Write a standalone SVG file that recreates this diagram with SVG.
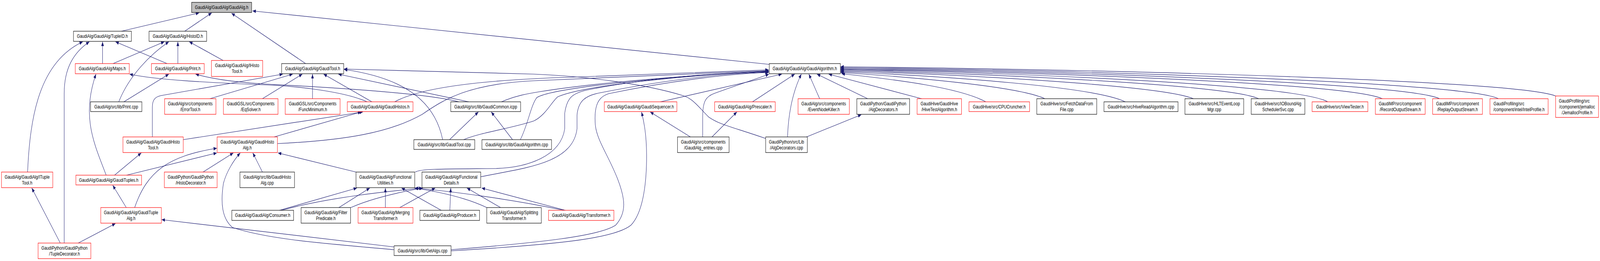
<svg xmlns="http://www.w3.org/2000/svg" width="5335" height="669" viewBox="0 0 5335 669" preserveAspectRatio="none" style="width:100%;height:100%">
<style>
.n rect{fill:#fff;stroke:#000;stroke-width:1.2}
.n.r rect{stroke:#f00}
.n.root rect{fill:#bfbfbf}
text{font-family:"Liberation Sans",Arial,Helvetica,sans-serif;font-size:13px;text-anchor:middle;fill:#000}
text.l{text-anchor:start}
.e path{fill:none;stroke:#191970;stroke-width:1.2;marker-end:url(#ah)}
</style>
<defs>
<marker id="ah" markerUnits="userSpaceOnUse" markerWidth="12" markerHeight="9" refX="11" refY="4.5" orient="auto">
<path d="M0,0 L11,4.5 L0,9 z" fill="#191970"/>
</marker>
</defs>
<rect width="5335" height="669" fill="#fff"/>
<g id="edges" class="e">
<path d="M405,80 L664,33"/>
<path d="M616,80 L706,33"/>
<path d="M1019,163 L772,34"/>
<path d="M2565,165 L842,28"/>
<path d="M342,163 L342,107"/>
<path d="M557,163 L385,107"/>
<path d="M377,163 L548,107"/>
<path d="M593,163 L593,107"/>
<path d="M744,155 L631,107"/>
<path d="M396,261 C430,195 500,140 563,107"/>
<path d="M413,261 L563,190"/>
<path d="M92,441 C100,300 130,160 276,107"/>
<path d="M214,623 L214,240 C214,175 245,135 298,107"/>
<path d="M354,449 C315,370 270,300 320,190"/>
<path d="M1224,261 C1150,235 1000,222 900,218 C700,212 520,205 432,190"/>
<path d="M1530,261 C1400,235 1000,220 900,216 C800,212 720,205 652,190"/>
<path d="M508,351 L508,275 C508,255 518,248 537,245 L943,190"/>
<path d="M700,253 L976,190"/>
<path d="M875,253 L1008,190"/>
<path d="M1042,253 L1042,190"/>
<path d="M1240,261 L1079,190"/>
<path d="M1563,261 L1128,190"/>
<path d="M1476,358 C1450,260 1350,200 1147,178"/>
<path d="M2553,355 C2440,325 2400,320 2363,300 C2330,275 2310,252 2277,245 C2150,215 1950,195 1780,190 L1147,177"/>
<path d="M1316,261 C1400,225 1600,205 1900,198 C2200,190 2400,183 2563,179"/>
<path d="M925,368 C1150,360 1300,340 1408,293 C1480,255 1560,215 1780,207 C2100,195 2400,185 2563,181"/>
<path d="M1672,261 C1720,245 1760,240 1800,235 C2000,210 2350,190 2563,183"/>
<path d="M1385,441 C1400,432 1500,433 1650,432 C1760,430 1870,400 1883,330 L1883,290 C1890,250 1910,240 1950,232 C2150,200 2400,186 2563,184"/>
<path d="M1603,453 C1750,430 1910,420 1924,330 L1924,295 C1928,260 1950,245 2000,238 C2200,208 2400,188 2563,185"/>
<path d="M1504,640 C1800,622 2000,605 2053,577 C2090,545 2085,510 2060,460 C2030,400 1990,360 1985,320 C1980,270 1995,248 2030,240 C2250,205 2450,188 2563,186"/>
<path d="M1504,643 C1850,627 2050,612 2104,577 C2150,540 2156,450 2156,400 C2156,340 2145,305 2139,287"/>
<path d="M1735,358 C1760,320 1770,270 1790,250 C1850,222 2300,192 2563,182"/>
<path d="M1546,358 C1600,340 1700,330 1780,310 C1820,295 1840,260 1860,248 C1950,218 2300,192 2563,183"/>
<path d="M2343,351 L2343,300 C2343,262 2352,248 2380,240 C2450,220 2520,203 2564,190"/>
<path d="M2302,351 L2168,287"/>
<path d="M2374,351 L2457,287"/>
<path d="M2202,261 L2607,190"/>
<path d="M2509,261 L2650,190"/>
<path d="M2626,351 C2628,300 2640,240 2672,190"/>
<path d="M2689,351 L2872,294"/>
<path d="M2733,253 L2697,190"/>
<path d="M2893,253 L2724,190"/>
<path d="M3073,253 L2763,190"/>
<path d="M3287,261 C3200,225 3000,205 2806,189"/>
<path d="M3484,253 C3400,222 3050,198 2803,186"/>
<path d="M3752,261 C3650,222 3150,195 2803,184"/>
<path d="M3979,253 C3880,220 3250,192 2803,182"/>
<path d="M4197,253 C4100,218 3350,190 2803,180"/>
<path d="M4427,261 C4330,218 3450,188 2803,178"/>
<path d="M4609,253 C4500,215 3550,186 2803,177"/>
<path d="M4800,253 C4700,215 3650,184 2803,175"/>
<path d="M4996,253 C4900,213 3750,182 2803,173"/>
<path d="M5187,246 C5060,208 3850,180 2803,171"/>
<path d="M932,539 L1190,482"/>
<path d="M938,539 C1100,505 1300,490 1408,482"/>
<path d="M1130,532 L1233,482"/>
<path d="M1170,532 C1250,505 1350,490 1410,482"/>
<path d="M1285,532 L1285,482"/>
<path d="M1333,532 L1451,482"/>
<path d="M1471,539 L1339,482"/>
<path d="M1500,539 L1503,482"/>
<path d="M1623,532 C1550,505 1450,490 1382,482"/>
<path d="M1669,532 L1557,482"/>
<path d="M1880,539 C1700,510 1500,490 1384,482"/>
<path d="M1885,539 L1606,482"/>
<path d="M1187,441 L927,392"/>
<path d="M449,532 C490,440 560,400 723,380"/>
<path d="M422,449 L723,392"/>
<path d="M382,449 L471,392"/>
<path d="M677,441 L778,392"/>
<path d="M875,441 L843,392"/>
<path d="M1314,640 C1100,625 900,615 775,583 C740,560 735,520 745,470 C755,440 780,410 801,392"/>
<path d="M421,532 L376,475"/>
<path d="M261,623 L385,573"/>
<path d="M1314,633 L539,563"/>
<path d="M201,623 L106,482"/>
<path d="M611,358 L1210,287"/>
<path d="M914,351 L1204,287"/>
<path d="M1499,358 L1595,287"/>
<path d="M1709,358 L1638,287"/>
</g>
<g id="n_root" class="n root"><rect x="639" y="6" width="200" height="26"/><text x="739" y="23">GaudiAlg/GaudiAlg/GaudiAlg.h</text></g>
<g id="n_tupleid" class="n"><rect x="245" y="80" width="193" height="26"/><text x="341.5" y="97">GaudiAlg/GaudiAlg/TupleID.h</text></g>
<g id="n_histoid" class="n"><rect x="497" y="80" width="192" height="26"/><text x="593" y="97">GaudiAlg/GaudiAlg/HistoID.h</text></g>
<g id="n_maps" class="n r"><rect x="251" y="163" width="180" height="26"/><text x="341" y="180">GaudiAlg/GaudiAlg/Maps.h</text></g>
<g id="n_print" class="n r"><rect x="505" y="163" width="176" height="26"/><text x="593" y="180">GaudiAlg/GaudiAlg/Print.h</text></g>
<g id="n_ihistotool" class="n r"><rect x="705" y="155" width="171" height="41"/><text x="790.5" y="172">GaudiAlg/GaudiAlg/IHisto</text><text x="790.5" y="187">Tool.h</text></g>
<g id="n_gauditool" class="n"><rect x="939" y="163" width="207" height="26"/><text x="1042.5" y="180">GaudiAlg/GaudiAlg/GaudiTool.h</text></g>
<g id="n_gaudialgorithm" class="n"><rect x="2565" y="163" width="237" height="26"/><text x="2683.5" y="180">GaudiAlg/GaudiAlg/GaudiAlgorithm.h</text></g>
<g id="n_printcpp" class="n"><rect x="302" y="261" width="171" height="25"/><text x="387.5" y="278">GaudiAlg/src/lib/Print.cpp</text></g>
<g id="n_errortool" class="n r"><rect x="549" y="253" width="171" height="40"/><text x="634.5" y="270">GaudiAlg/src/components</text><text x="634.5" y="285">/ErrorTool.h</text></g>
<g id="n_eqsolver" class="n r"><rect x="745" y="253" width="182" height="40"/><text x="836" y="270">GaudiGSL/src/Components</text><text x="836" y="285">/EqSolver.h</text></g>
<g id="n_funcmin" class="n r"><rect x="951" y="253" width="183" height="40"/><text x="1042.5" y="270">GaudiGSL/src/Components</text><text x="1042.5" y="285">/FuncMinimum.h</text></g>
<g id="n_gaudihistos" class="n r"><rect x="1158" y="261" width="219" height="25"/><text x="1267.5" y="278">GaudiAlg/GaudiAlg/GaudiHistos.h</text></g>
<g id="n_gaudicommon" class="n"><rect x="1503" y="261" width="233" height="25"/><text x="1619.5" y="278">GaudiAlg/src/lib/GaudiCommon.icpp</text></g>
<g id="n_seq" class="n r"><rect x="2015" y="261" width="242" height="25"/><text x="2136" y="278">GaudiAlg/GaudiAlg/GaudiSequencer.h</text></g>
<g id="n_prescaler" class="n r"><rect x="2383" y="261" width="202" height="25"/><text x="2484" y="278">GaudiAlg/GaudiAlg/Prescaler.h</text></g>
<g id="n_eventnodekiller" class="n r"><rect x="2661" y="253" width="171" height="40"/><text x="2746.5" y="270">GaudiAlg/src/components</text><text x="2746.5" y="285">/EventNodeKiller.h</text></g>
<g id="n_algdec_h" class="n"><rect x="2857" y="253" width="176" height="40"/><text x="2945" y="270">GaudiPython/GaudiPython</text><text x="2945" y="285">/AlgDecorators.h</text></g>
<g id="n_hivetest" class="n r"><rect x="3058" y="253" width="148" height="40"/><text x="3132" y="270">GaudiHive/GaudiHive</text><text x="3132" y="285">/HiveTestAlgorithm.h</text></g>
<g id="n_cpucruncher" class="n r"><rect x="3231" y="261" width="202" height="25"/><text x="3332" y="278">GaudiHive/src/CPUCruncher.h</text></g>
<g id="n_fetchdata" class="n"><rect x="3457" y="253" width="200" height="40"/><text x="3557" y="270">GaudiHive/src/FetchDataFrom</text><text x="3557" y="285">File.cpp</text></g>
<g id="n_hiveread" class="n"><rect x="3681" y="261" width="247" height="25"/><text x="3804.5" y="278">GaudiHive/src/HiveReadAlgorithm.cpp</text></g>
<g id="n_hlt" class="n"><rect x="3951" y="253" width="196" height="40"/><text x="4049" y="270">GaudiHive/src/HLTEventLoop</text><text x="4049" y="285">Mgr.cpp</text></g>
<g id="n_iobound" class="n"><rect x="4172" y="253" width="179" height="40"/><text x="4261.5" y="270">GaudiHive/src/IOBoundAlg</text><text x="4261.5" y="285">SchedulerSvc.cpp</text></g>
<g id="n_viewtester" class="n r"><rect x="4375" y="261" width="186" height="25"/><text x="4468" y="278">GaudiHive/src/ViewTester.h</text></g>
<g id="n_record" class="n r"><rect x="4586" y="253" width="166" height="40"/><text x="4669" y="270">GaudiMP/src/component</text><text x="4669" y="285">/RecordOutputStream.h</text></g>
<g id="n_replay" class="n r"><rect x="4777" y="253" width="166" height="40"/><text x="4860" y="270">GaudiMP/src/component</text><text x="4860" y="285">/ReplayOutputStream.h</text></g>
<g id="n_intel" class="n r"><rect x="4968" y="253" width="194" height="40"/><text class="l" x="4980" y="270">GaudiProfiling/src</text><text x="5065" y="285">/component/intel/IntelProfile.h</text></g>
<g id="n_jemalloc" class="n r"><rect x="5187" y="246" width="143" height="55"/><text class="l" x="5198" y="263">GaudiProfiling/src</text><text x="5258.5" y="278">/component/jemalloc</text><text x="5258.5" y="293">/JemallocProfile.h</text></g>
<g id="n_gaudihistotool" class="n r"><rect x="410" y="351" width="201" height="40"/><text x="510.5" y="368">GaudiAlg/GaudiAlg/GaudiHisto</text><text x="510.5" y="383">Tool.h</text></g>
<g id="n_gaudihistoalg" class="n r"><rect x="724" y="351" width="201" height="40"/><text x="824.5" y="368">GaudiAlg/GaudiAlg/GaudiHisto</text><text x="824.5" y="383">Alg.h</text></g>
<g id="n_gauditoolcpp" class="n"><rect x="1380" y="358" width="203" height="25"/><text x="1481.5" y="375">GaudiAlg/src/lib/GaudiTool.cpp</text></g>
<g id="n_gaudialgcpp" class="n"><rect x="1607" y="358" width="232" height="25"/><text x="1723" y="375">GaudiAlg/src/lib/GaudiAlgorithm.cpp</text></g>
<g id="n_entries" class="n"><rect x="2259" y="351" width="172" height="40"/><text x="2345" y="368">GaudiAlg/src/components</text><text x="2345" y="383">/GaudiAlg_entries.cpp</text></g>
<g id="n_algdec_cpp" class="n"><rect x="2553" y="351" width="139" height="40"/><text x="2622.5" y="368">GaudiPython/src/Lib</text><text x="2622.5" y="383">/AlgDecorators.cpp</text></g>
<g id="n_ituple" class="n r"><rect x="5" y="441" width="171" height="40"/><text x="90.5" y="458">GaudiAlg/GaudiAlg/ITuple</text><text x="90.5" y="473">Tool.h</text></g>
<g id="n_gaudituples" class="n r"><rect x="253" y="449" width="219" height="25"/><text x="362.5" y="466">GaudiAlg/GaudiAlg/GaudiTuples.h</text></g>
<g id="n_histodec" class="n r"><rect x="548" y="441" width="176" height="40"/><text x="636" y="458">GaudiPython/GaudiPython</text><text x="636" y="473">/HistoDecorator.h</text></g>
<g id="n_histoalgcpp" class="n"><rect x="800" y="441" width="182" height="40"/><text x="891" y="458">GaudiAlg/src/lib/GaudiHisto</text><text x="891" y="473">Alg.cpp</text></g>
<g id="n_futil" class="n"><rect x="1187" y="441" width="196" height="40"/><text x="1285" y="458">GaudiAlg/GaudiAlg/Functional</text><text x="1285" y="473">Utilities.h</text></g>
<g id="n_fdet" class="n"><rect x="1407" y="441" width="196" height="40"/><text x="1505" y="458">GaudiAlg/GaudiAlg/Functional</text><text x="1505" y="473">Details.h</text></g>
<g id="n_tuplealg" class="n r"><rect x="336" y="532" width="202" height="40"/><text x="437" y="549">GaudiAlg/GaudiAlg/GaudiTuple</text><text x="437" y="564">Alg.h</text></g>
<g id="n_consumer" class="n"><rect x="773" y="539" width="206" height="26"/><text x="876" y="556">GaudiAlg/GaudiAlg/Consumer.h</text></g>
<g id="n_filter" class="n"><rect x="1004" y="532" width="165" height="40"/><text x="1086.5" y="549">GaudiAlg/GaudiAlg/Filter</text><text x="1086.5" y="564">Predicate.h</text></g>
<g id="n_merging" class="n r"><rect x="1194" y="532" width="183" height="40"/><text x="1285.5" y="549">GaudiAlg/GaudiAlg/Merging</text><text x="1285.5" y="564">Transformer.h</text></g>
<g id="n_producer" class="n"><rect x="1400" y="539" width="199" height="26"/><text x="1499.5" y="556">GaudiAlg/GaudiAlg/Producer.h</text></g>
<g id="n_splitting" class="n"><rect x="1623" y="532" width="182" height="40"/><text x="1714" y="549">GaudiAlg/GaudiAlg/Splitting</text><text x="1714" y="564">Transformer.h</text></g>
<g id="n_transformer" class="n r"><rect x="1829" y="539" width="218" height="26"/><text x="1938" y="556">GaudiAlg/GaudiAlg/Transformer.h</text></g>
<g id="n_tupledec" class="n r"><rect x="127" y="623" width="176" height="40"/><text x="215" y="640">GaudiPython/GaudiPython</text><text x="215" y="655">/TupleDecorator.h</text></g>
<g id="n_getalgs" class="n"><rect x="1314" y="630" width="190" height="25"/><text x="1409" y="647">GaudiAlg/src/lib/GetAlgs.cpp</text></g>
</svg>
